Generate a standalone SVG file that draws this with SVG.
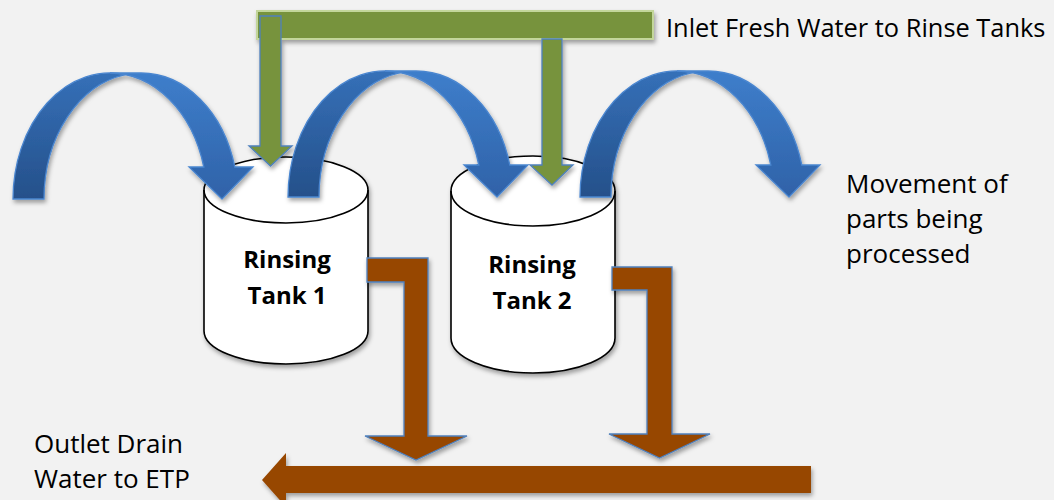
<svg xmlns="http://www.w3.org/2000/svg" width="1054" height="500" viewBox="0 0 1054 500">
<defs>
<style>
.lbl{font-family:"Open Sans","Liberation Sans",Arial,sans-serif;font-size:26px;fill:#000}
.lbl-top{font-size:25.4px}
.tank-lbl{font-family:"Open Sans","Liberation Sans",Arial,sans-serif;font-size:24px;font-weight:bold;fill:#000;text-anchor:middle}
.tank-body{fill:#fff;stroke:#000;stroke-width:1.6}
.tank-rim{fill:none;stroke:#000;stroke-width:1.6}
.green{fill:#77933c;stroke:#4f81bd;stroke-width:1.3}
.bar{fill:#77933c;stroke:#c3d69b;stroke-width:2}
.brown{fill:#974706;stroke:#4f81bd;stroke-width:1.3}
.brown-main{fill:#974706}
.arc-back{fill:url(#gBack);stroke:#4a86d0;stroke-width:1.3}
.arc-front{fill:url(#gFront);stroke:#4a86d0;stroke-width:1.3}
</style>
<linearGradient id="gBack" x1="0" y1="0" x2="0" y2="1">
<stop offset="0" stop-color="#3570b8"/>
<stop offset="1" stop-color="#25508a"/>
</linearGradient>
<linearGradient id="gFront" x1="0" y1="0" x2="0" y2="1">
<stop offset="0" stop-color="#3e7ecb"/>
<stop offset="1" stop-color="#2f62a8"/>
</linearGradient>
<filter id="sh" x="-20%" y="-20%" width="140%" height="150%">
<feDropShadow dx="1.5" dy="3" stdDeviation="2.2" flood-color="#000" flood-opacity="0.35"/>
</filter>
<g id="arcShape">
<path class="arc-back" d="M13,199 A97 126 0 0 1 125.5,74.6 A97 126 0 0 0 44,199 Z"/>
<path class="arc-front" d="M222,199 L189,167 L203.8,167 A97 126 0 0 0 110,73 L141,73 A97 126 0 0 1 234.8,167 L253,167 Z"/>
</g>
</defs>
<rect x="0" y="0" width="1054" height="500" fill="#f2f2f2"/>

<g id="tank-1" filter="url(#sh)">
<path class="tank-body" d="M204,190 A82 33 0 0 1 368,190 L368,331 A82 33 0 0 1 204,331 Z"/>
<path class="tank-rim" d="M204,190 A82 33 0 0 0 368,190"/>
</g>
<g id="tank-2" filter="url(#sh)">
<path class="tank-body" d="M451,191 A82 35 0 0 1 615,191 L615,338 A82 35 0 0 1 451,338 Z"/>
<path class="tank-rim" d="M451,191 A82 35 0 0 0 615,191"/>
</g>

<g id="connectors">
<g id="parts-flow" filter="url(#sh)">
<use href="#arcShape"/>
<use href="#arcShape" transform="translate(275,-2)"/>
<use href="#arcShape" transform="translate(567,-2)"/>
</g>
<g id="fresh-water" filter="url(#sh)">
<rect class="bar" x="257" y="11" width="396" height="28"/>
<path class="green" d="M260,16 L281,16 L281,146 L292,146 L270.5,166 L249,146 L260,146 Z"/>
<path class="green" d="M542,39 L562,39 L562,165 L573,165 L552,185 L530,165 L542,165 Z"/>
</g>
<g id="drain" filter="url(#sh)">
<path class="brown" d="M367,258 L428,258 L428,436 L467,436 L416,460 L365,436 L404,436 L404,282 L367,282 Z"/>
<path class="brown" d="M612,267 L672,267 L672,434 L710,434 L659.5,458 L609,434 L647,434 L647,290 L612,290 Z"/>
<path class="brown-main" d="M811,466 L286,466 L286,453 L262,480 L286,507 L286,493 L811,493 Z"/>
</g>
</g>

<g id="tank-labels">
<text class="tank-lbl" x="287" y="268">Rinsing</text>
<text class="tank-lbl" x="287" y="304">Tank 1</text>
<text class="tank-lbl" x="532" y="273">Rinsing</text>
<text class="tank-lbl" x="532" y="309">Tank 2</text>
</g>

<g id="label-inlet"><text class="lbl lbl-top" x="666" y="37">Inlet Fresh Water to Rinse Tanks</text></g>
<g id="label-movement">
<text class="lbl" x="846" y="193">Movement of</text>
<text class="lbl" x="846" y="228">parts being</text>
<text class="lbl" x="846" y="263">processed</text>
</g>
<g id="label-outlet">
<text class="lbl" x="34" y="453">Outlet Drain</text>
<text class="lbl" x="34" y="488">Water to ETP</text>
</g>
</svg>
